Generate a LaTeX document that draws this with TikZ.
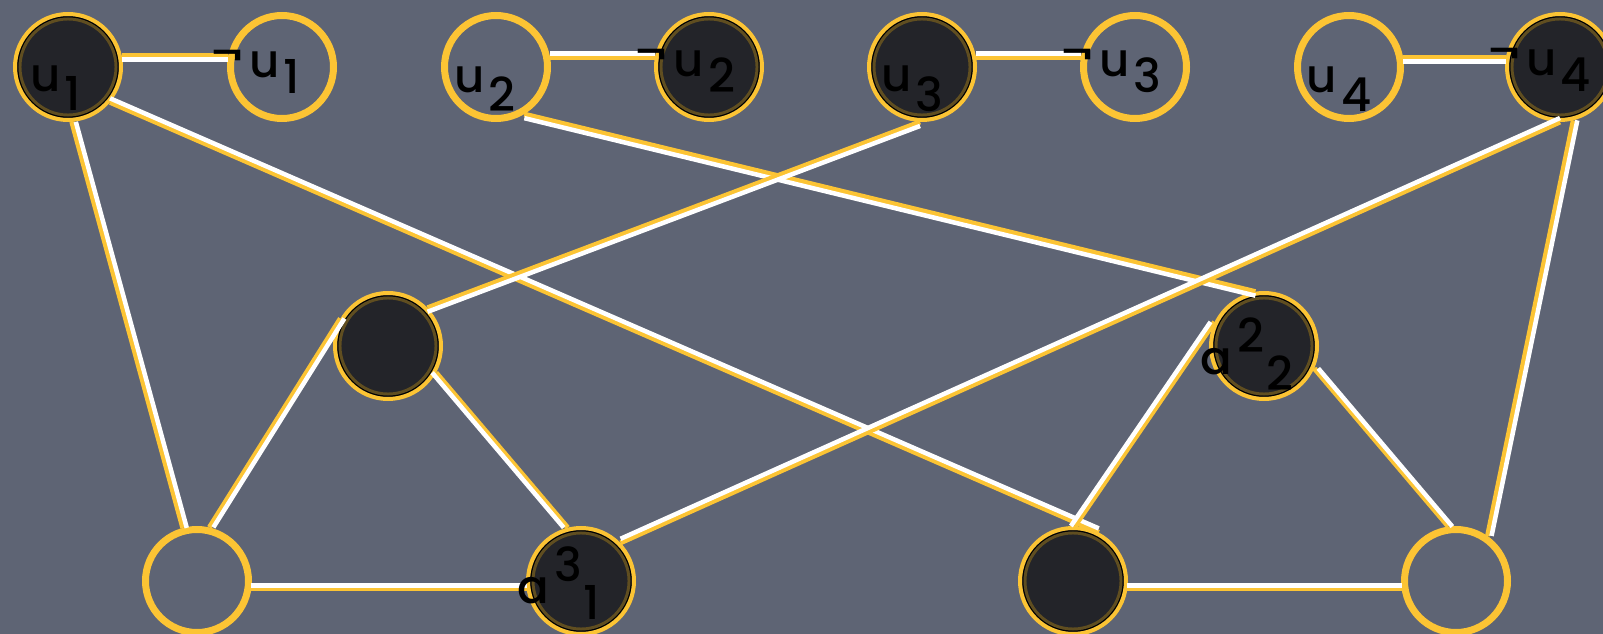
\documentclass[tikz,border=0pt]{standalone}
\usepackage{fontspec}
\setmainfont{Poppins}
\newfontfamily\lblfont{Poppins}[UprightFont=* Medium]
\usetikzlibrary{positioning, calc}
\definecolor{slate}{RGB}{94,100,116}
\definecolor{gold}{RGB}{252,196,52}
\definecolor{coal}{RGB}{35,36,41}
\definecolor{umber}{RGB}{96,78,32}

\newcommand{\lit}[2]{#1\kern3pt\raisebox{-0.42em}{#2}}
\newcommand{\nlit}[2]{\raisebox{0.15em}{¬}\kern5pt#1\kern3pt\raisebox{-0.35em}{#2}}
\newcommand{\avar}[3]{#1\kern4pt\raisebox{0.47em}{#2}\kern1pt\raisebox{-0.34em}{#3}}

\begin{document}
\begin{tikzpicture}[x=0.75pt, y=-0.75pt,
        open/.style={circle, draw=gold, line width=5.25pt, minimum size=77.25pt, inner sep=0pt},
        full/.style={circle, draw=gold, fill=coal, line width=3pt, minimum size=79.5pt, inner sep=0pt,
            path picture={
                \draw[black, line width=0.9pt] (path picture bounding box.center) circle (37.6pt);
                \draw[umber, line width=2.2pt] (path picture bounding box.center) circle (36pt);}},
        yel/.style={gold, line width=3.75pt},
        wht/.style={white, line width=3.4pt},
        lbl/.style={font=\fontsize{35}{40}\lblfont, inner sep=0pt, text=black}]
        \useasboundingbox (0,0) rectangle (1603,634);
        \fill[slate] (0,0) rectangle (1603,634);

        % Literals
        \node[full] (u1) at (68,67) {};
        \node[open] (nu1) at (282,67) {};
        \node[open] (u2) at (496,67) {};
        \node[full] (nu2) at (709,67) {};
        \node[full] (u3) at (922,67) {};
        \node[open] (nu3) at (1135,67) {};
        \node[open] (u4) at (1349,67) {};
        \node[full] (nu4) at (1560,67) {};

        % Clause triangles
        \node[full] (t1) at (388,346) {};
        \node[open] (l1) at (197,581) {};
        \node[full] (a13) at (581,581) {};
        \node[full] (a22) at (1264,346) {};
        \node[full] (l2) at (1073,581) {};
        \node[open] (r2) at (1456,581) {};

        % Literal pairs
        \draw[yel] (u1.12) -- (nu1.168);
        \draw[wht, transform canvas={yshift=-3pt}] (u1.12) -- (nu1.168);
        \draw[yel] (u2.10) -- (nu2.170);
        \draw[wht, transform canvas={yshift=3pt}] (u2.10) -- (nu2.170);
        \draw[yel] (u3.10) -- (nu3.170);
        \draw[wht, transform canvas={yshift=3pt}] (u3.10) -- (nu3.170);
        \draw[yel] (u4.10) -- (nu4.170);
        \draw[wht, transform canvas={yshift=-3pt}] (u4.10) -- (nu4.170);

        % Literals to clauses
        \draw[yel] (u1.-86) -- (l1.105);
        \draw[wht, transform canvas={xshift=3pt}] (u1.-86) -- (l1.105);
        \draw[yel] (u1.-40) -- (l2.62);
        \draw[wht, transform canvas={yshift=3pt}] (u1.-40) -- (l2.62);
        \draw[yel] (u2.-59) -- (a22.99);
        \draw[wht, transform canvas={yshift=-3pt}] (u2.-59) -- (a22.99);
        \draw[yel] (u3.-92) -- (t1.44);
        \draw[wht, transform canvas={yshift=-3pt}] (u3.-92) -- (t1.44);
        \draw[yel] (nu4.-90) -- (a13.44);
        \draw[wht, transform canvas={yshift=3pt}] (nu4.-90) -- (a13.44);
        \draw[yel] (nu4.-76) -- (r2.55);
        \draw[wht, transform canvas={xshift=3pt}] (nu4.-76) -- (r2.55);

        % Triangle sides
        \draw[yel] (t1.150) -- (l1.77);
        \draw[wht, transform canvas={xshift=3pt}] (t1.150) -- (l1.77);
        \draw[yel] (t1.-29) -- (a13.104);
        \draw[wht, transform canvas={xshift=-3pt}] (t1.-29) -- (a13.104);
        \draw[yel] (l1.-8) -- (a13.188);
        \draw[wht, transform canvas={yshift=2.5pt}] (l1.-8) -- (a13.188);
        \draw[yel] (a22.154) -- (l2.88);
        \draw[wht, transform canvas={xshift=-3pt}] (a22.154) -- (l2.88);
        \draw[yel] (a22.-24) -- (r2.98);
        \draw[wht, transform canvas={xshift=3pt}] (a22.-24) -- (r2.98);
        \draw[yel] (l2.-8) -- (r2.188);
        \draw[wht, transform canvas={yshift=2.5pt}] (l2.-8) -- (r2.188);

        % Labels
        \node[lbl] (u1t) at (56,88) {\lit{u}{1}};
        \node[lbl] (nu1t) at (256,72) {\nlit{u}{1}};
        \node[lbl] (u2t) at (485,89) {\lit{u}{2}};
        \node[lbl] (nu2t) at (686,71) {\nlit{u}{2}};
        \node[lbl] (u3t) at (912,89) {\lit{u}{3}};
        \node[lbl] (nu3t) at (1112,71) {\nlit{u}{3}};
        \node[lbl] (u4t) at (1339,89) {\lit{u}{4}};
        \node[lbl] (nu4t) at (1540,70) {\nlit{u}{4}};
        \node[lbl] (a13t) at (559,583) {\avar{a}{3}{1}};
        \node[lbl] (a22t) at (1247,354) {\avar{a}{2}{2}};
\end{tikzpicture}
\end{document}
